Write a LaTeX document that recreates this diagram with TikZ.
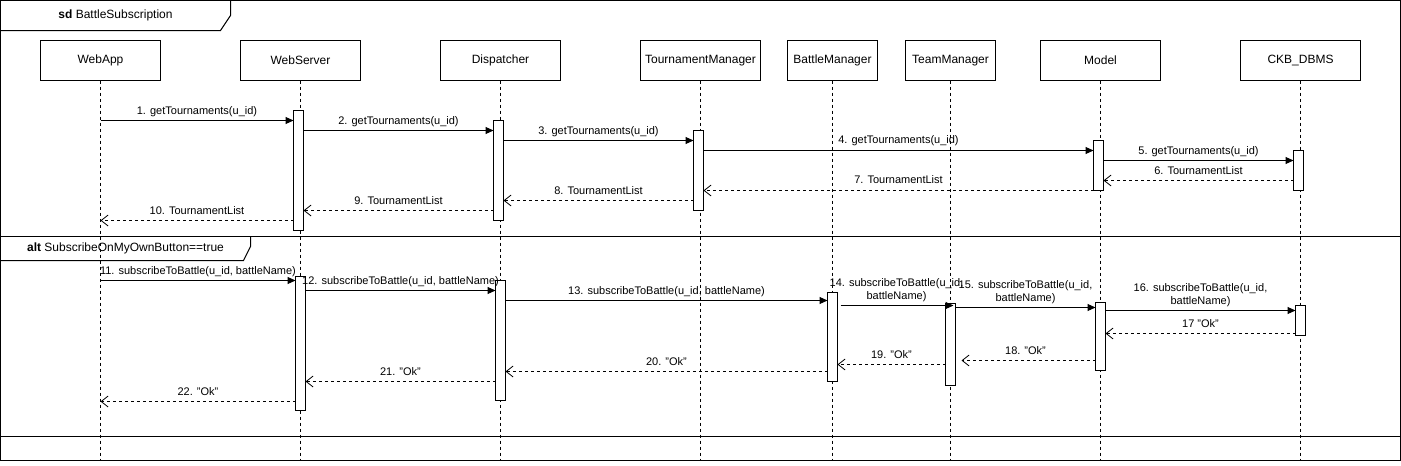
\documentclass[tikz,border=0pt]{standalone}
\usepackage{fontspec}
\setmainfont{Liberation Sans}
\usepackage{tikz}
\usetikzlibrary{arrows.meta,positioning}
\tikzset{
    % Lifeline heads
    actor box/.style={
        rectangle,
        draw=black,
        line width=1pt,
        fill=white,
        minimum width=120pt,
        minimum height=40pt,
        inner sep=2pt,
        outer sep=0pt,
        align=center,
        font=\fontsize{12}{14}\selectfont
    },
    actor box narrow/.style={
        actor box,
        minimum width=90pt
    },
    lifeline/.style={
        draw=black,
        line width=1pt,
        dash pattern=on 3pt off 3pt
    },
    activation/.style={
        rectangle,
        draw=black,
        line width=1pt,
        fill=white,
        minimum width=10pt,
        inner sep=0pt,
        outer sep=0pt,
        anchor=north
    },
    call/.style={
        -{Triangle[length=8pt,width=7pt]},
        line width=1pt,
        draw=black
    },
    reply/.style={
        -{Straight Barb[length=7pt,width=11pt,line width=0.8pt]},
        line width=1pt,
        draw=black,
        dash pattern=on 3pt off 3pt
    },
    msg/.style={
        font=\fontsize{11}{13}\selectfont,
        inner sep=0pt,
        text depth=2.5pt,
        above=3pt
    },
    msg two/.style={
        font=\fontsize{11}{13}\selectfont,
        inner sep=0pt,
        align=center,
        above=3pt
    },
    frame tab/.style={
        font=\fontsize{12}{14}\selectfont,
        inner sep=0pt
    }
}

\begin{document}
\begin{tikzpicture}[x=1pt, y=-1pt, line width=1pt]
        \useasboundingbox (-0.5,-0.5) rectangle (1400.5,465.5);

        % Frames
        \draw (0,0) rectangle (1400,460);
        \draw (0,30) -- (220,30) -- (230,15) -- (230,0);
        \node[frame tab] (sdtitle) at (115,15) {\textbf{sd} BattleSubscription};
        \draw (0,236) -- (1400,236);
        \draw (0,260) -- (243,260) -- (250,246) -- (250,236);
        \node[frame tab] (altguard) at (125,248) {\textbf{alt} SubscribeOnMyOwnButton==true};
        \draw (0,436) -- (1400,436);

        % Participants
        \node[actor box] (webapp) at (100,60) {WebApp};
        \node[actor box, right=80pt of webapp] (webserver) {WebServer};
        \node[actor box, right=80pt of webserver] (dispatcher) {Dispatcher};
        \node[actor box, right=80pt of dispatcher] (tourman) {TournamentManager};
        \node[actor box narrow, right=27pt of tourman] (battleman) {BattleManager};
        \node[actor box narrow, right=28pt of battleman] (teamman) {TeamManager};
        \node[actor box, right=45pt of teamman] (model) {Model};
        \node[actor box, right=80pt of model] (dbms) {CKB\_DBMS};

        % Lifelines
        \draw[lifeline] (webapp.south) -- (webapp.south |- 0,460);
        \draw[lifeline] (webserver.south) -- (webserver.south |- 0,460);
        \draw[lifeline] (dispatcher.south) -- (dispatcher.south |- 0,460);
        \draw[lifeline] (tourman.south) -- (tourman.south |- 0,460);
        \draw[lifeline] (battleman.south) -- (battleman.south |- 0,460);
        \draw[lifeline] (teamman.south) -- (teamman.south |- 0,460);
        \draw[lifeline] (model.south) -- (model.south |- 0,460);
        \draw[lifeline] (dbms.south) -- (dbms.south |- 0,460);

        % Activations
        \node[activation, minimum height=120pt, xshift=-2pt] (wsA) at (webserver.south |- 0,110) {};
        \node[activation, minimum height=100pt, xshift=-2pt] (dispA) at (dispatcher.south |- 0,120) {};
        \node[activation, minimum height=80pt, xshift=-2pt] (tmA) at (tourman.south |- 0,130) {};
        \node[activation, minimum height=50pt, xshift=-2pt] (modelA) at (model.south |- 0,140) {};
        \node[activation, minimum height=40pt, xshift=-2pt] (dbA) at (dbms.south |- 0,150) {};

        \node[activation, minimum height=134pt] (wsB) at (webserver.south |- 0,276) {};
        \node[activation, minimum height=120pt] (dispB) at (dispatcher.south |- 0,280) {};
        \node[activation, minimum height=89pt] (bmB) at (battleman.south |- 0,292) {};
        \node[activation, minimum height=82pt] (teamB) at (teamman.south |- 0,303) {};
        \node[activation, minimum height=68pt] (modelB) at (model.south |- 0,302) {};
        \node[activation, minimum height=30pt] (dbB) at (dbms.south |- 0,305) {};

        % Tournament list
        \draw[call] (webapp |- 0,120) -- (wsA.west |- 0,120)
              node[msg, midway] {1. getTournaments(u\_id)};
        \draw[call] (wsA.east |- 0,130) -- (dispA.west |- 0,130)
              node[msg, midway] {2. getTournaments(u\_id)};
        \draw[call] (dispA.east |- 0,140) -- (tmA.west |- 0,140)
              node[msg, midway] {3. getTournaments(u\_id)};
        \draw[call] (tmA.east |- 0,150) -- (modelA.west |- 0,150)
              node[msg, midway, above=4.5pt] {4. getTournaments(u\_id)};
        \draw[call] (modelA.east |- 0,160) -- (dbA.west |- 0,160)
              node[msg, midway] {5. getTournaments(u\_id)};
        \draw[reply] (dbA.west |- 0,180) -- (modelA.east |- 0,180)
              node[msg, midway] {6. TournamentList};
        \draw[reply] (modelA.west |- 0,190) -- (tmA.east |- 0,190)
              node[msg, midway, above=4.5pt] {7. TournamentList};
        \draw[reply] (tmA.west |- 0,200) -- (dispA.east |- 0,200)
              node[msg, midway] {8. TournamentList};
        \draw[reply] (dispA.west |- 0,210) -- (wsA.east |- 0,210)
              node[msg, midway] {9. TournamentList};
        \draw[reply] (wsA.west |- 0,220) -- (webapp |- 0,220)
              node[msg, midway] {10. TournamentList};

        % Subscription
        \draw[call] (webapp |- 0,280) -- (wsB.west |- 0,280)
              node[msg, midway] {11. subscribeToBattle(u\_id, battleName)};
        \draw[call] (wsB.east |- 0,290) -- (dispB.west |- 0,290)
              node[msg, midway] {12. subscribeToBattle(u\_id, battleName)};
        \draw[call] (dispB.east |- 0,300) -- (bmB.west |- 0,300)
              node[msg, midway] {13. subscribeToBattle(u\_id, battleName)};
        \draw[call, shorten <=3pt, shorten >=2pt] (bmB.east |- 0,305) -- (teamB.east |- 0,305)
              node[msg two, midway] {14. subscribeToBattle(u\_id,\\battleName)};
        \draw[call] (teamB.east |- 0,307) -- (modelB.west |- 0,307)
              node[msg two, midway] {15. subscribeToBattle(u\_id,\\battleName)};
        \draw[call] (modelB.east |- 0,310) -- (dbB.west |- 0,310)
              node[msg two, midway] {16. subscribeToBattle(u\_id,\\battleName)};
        \draw[reply] (dbB.west |- 0,333) -- (modelB.east |- 0,333)
              node[msg, midway] {17 "Ok"};
        \draw[reply, shorten >=6pt] (modelB.west |- 0,360) -- (teamB.east |- 0,360)
              node[msg, midway] {18. "Ok"};
        \draw[reply] (teamB.west |- 0,364) -- (bmB.east |- 0,364)
              node[msg, midway] {19. "Ok"};
        \draw[reply] (bmB.west |- 0,371) -- (dispB.east |- 0,371)
              node[msg, midway] {20. "Ok"};
        \draw[reply] (dispB.west |- 0,381) -- (wsB.east |- 0,381)
              node[msg, midway] {21. "Ok"};
        \draw[reply] (wsB.west |- 0,401) -- (webapp |- 0,401)
              node[msg, midway] {22. "Ok"};
    \end{tikzpicture}
\end{document}
